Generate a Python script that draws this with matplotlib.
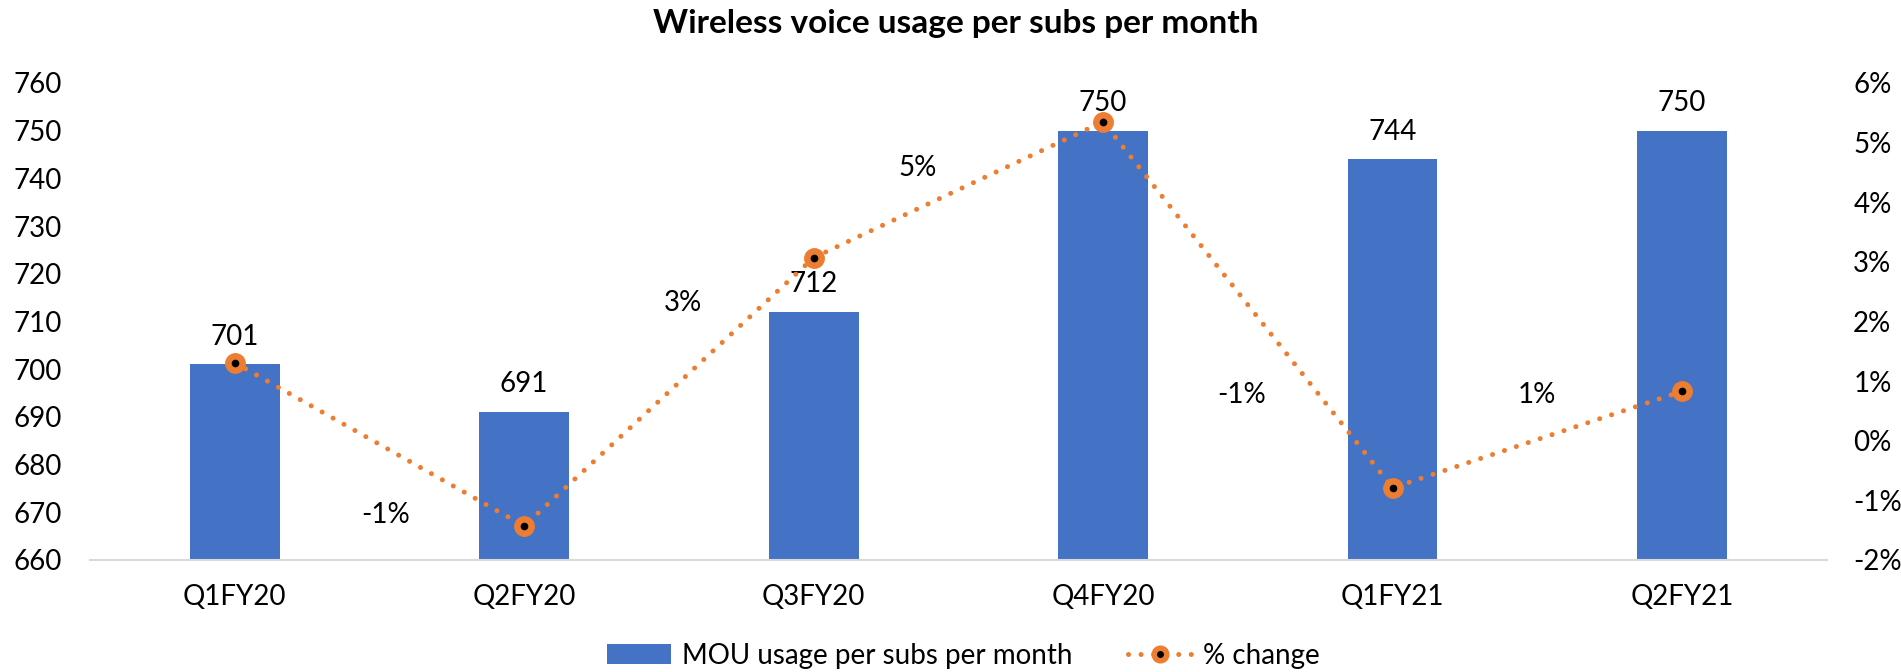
import matplotlib.pyplot as plt
from matplotlib.lines import Line2D
from matplotlib.patches import Patch

plt.rcParams['font.family'] = ['Lato', 'DejaVu Sans']

categories = ['Q1FY20', 'Q2FY20', 'Q3FY20', 'Q4FY20', 'Q1FY21', 'Q2FY21']
mou = [701, 691, 712, 750, 744, 750]
pct_change = [1.31, -1.43, 3.07, 5.35, -0.79, 0.83]  # right axis, in %

# the "% change" labels sit between the categories in the source chart
change_labels = ['-1%', '3%', '5%', '-1%', '1%']
change_label_x = [0.52, 1.55, 2.36, 3.48, 4.50]
change_label_y = [-1.25, 2.31, 4.57, 0.77, 0.77]

bar_color = '#4472C4'
line_color = '#ED7D31'
dots = (0, (0.01, 2.5))

fig = plt.figure(figsize=(19.01, 6.72), dpi=100)
ax1 = fig.add_axes([0.0473, 0.1667, 0.9137, 0.7098])
ax2 = ax1.twinx()

x = list(range(len(categories)))
ax1.bar(x, mou, width=0.31, color=bar_color, zorder=2)
ax1.set_ylim(660, 760)
ax1.set_xlim(-0.5, len(categories) - 0.5)
ax1.set_yticks(range(660, 761, 10))
ax1.set_xticks(x)
ax1.set_xticklabels(categories)

for xi, v in zip(x, mou):
    ax1.annotate(str(v), (xi, v), xytext=(0, 20), textcoords='offset points',
                 ha='center', va='center', fontsize=20)

ax2.plot(x, pct_change, color=line_color, lw=3.6, linestyle=dots,
         dash_capstyle='round', zorder=3)
ax2.plot(x, pct_change, lw=0, marker='o', ms=14, mfc=line_color, mec=line_color, zorder=4)
ax2.plot(x, pct_change, lw=0, marker='o', ms=4.5, mfc='black', mec='black', zorder=5)
ax2.set_ylim(-2, 6)
ax2.set_yticks(range(-2, 7))
ax2.set_yticklabels([f'{v}%' for v in range(-2, 7)])

for lx, ly, t in zip(change_label_x, change_label_y, change_labels):
    ax2.text(lx, ly, t, ha='center', va='center', fontsize=20)

for ax in (ax1, ax2):
    for s in ax.spines.values():
        s.set_visible(False)
    ax.tick_params(length=0, labelsize=20)
ax1.spines['bottom'].set_visible(True)
ax1.spines['bottom'].set_color('#D9D9D9')
ax1.spines['bottom'].set_linewidth(1.5)
ax1.tick_params(axis='x', pad=17)
ax1.tick_params(axis='y', pad=20)
ax2.tick_params(axis='y', pad=19)

fig.text(0.503, 0.965, 'Wireless voice usage per subs per month', ha='center', va='center',
         fontsize=24, fontweight='bold')

line_handle = (
    Line2D([0], [0], color=line_color, lw=3.6, linestyle=dots, dash_capstyle='round',
           marker='o', ms=12, mfc=line_color, mec=line_color),
    Line2D([0], [0], lw=0, marker='o', ms=4, mfc='black', mec='black'),
)
handles = [Patch(facecolor=bar_color), line_handle]
labels = ['MOU usage per subs per month', '% change']
fig.legend(handles, labels, loc='center', bbox_to_anchor=(0.507, 0.024), ncol=2,
           frameon=False, fontsize=20, handlelength=2.3, handletextpad=0.4,
           columnspacing=2.0)

fig.savefig('out.png', dpi=100)
